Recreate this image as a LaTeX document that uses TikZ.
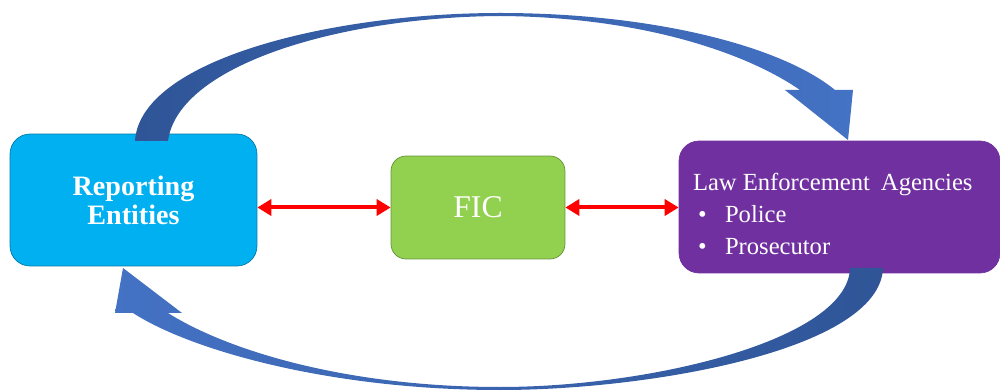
\documentclass[tikz,border=0pt]{standalone}
\usepackage{fontspec}
\setmainfont{Liberation Serif}
\usepackage{xcolor}
\usepackage{tikz}
\usetikzlibrary{arrows.meta, calc, positioning}

\definecolor{repblue}{HTML}{00B0F0}
\definecolor{ficgreen}{HTML}{92D050}
\definecolor{leapurple}{HTML}{7030A0}
\definecolor{flowdark}{HTML}{2F5597}
\definecolor{flowlight}{HTML}{4472C4}
\definecolor{linkred}{HTML}{FF0000}

\begin{document}
\begin{tikzpicture}[x=0.02cm, y=-0.02cm,
    box/.style={rounded corners=0.4cm, draw=#1!70!black, thin, fill=#1, text=white, inner sep=0pt},
    link/.style={{Triangle[length=0.28cm,width=0.32cm]}-{Triangle[length=0.28cm,width=0.32cm]}, linkred, line width=0.08cm}]
        \useasboundingbox (0,0) rectangle (1000,391);

        % Draw the three boxes
        \node[box=repblue, minimum width=4.94cm, minimum height=2.64cm, align=center,
              font=\fontsize{16}{16.5}\selectfont\bfseries] (rep) at (133.5,200) {Reporting\\Entities};
        \node[box=ficgreen, rounded corners=0.3cm, minimum width=3.48cm, minimum height=2.06cm,
              font=\fontsize{18}{20}\selectfont] (fic) at (478,207.5) {FIC};
        \node[box=leapurple, draw=leapurple, minimum width=6.42cm, minimum height=2.64cm] (lea) at (839.5,207) {};

        % Text of the agencies box
        \node[anchor=west, align=left, text=white, inner sep=0pt,
              font=\fontsize{14}{18.3}\selectfont] (leatext) at ($(lea.west)+(14,7)$)
              {Law Enforcement\hspace{0.2em} Agencies\\
               \makebox[0.64cm][l]{\hspace{0.1cm}\textbullet}Police\\
               \makebox[0.64cm][l]{\hspace{0.1cm}\textbullet}Prosecutor};

        % Two-way exchange with the FIC
        \draw[link] (rep.east |- fic.west) -- (fic.west);
        \draw[link] (fic.east) -- (fic.east -| lea.west);

        % Upper flow: reporting entities to agencies
        \shade[left color=flowdark, right color=flowlight]
            (135,141) .. controls (140,60) and (330,13) .. (500,13)
            .. controls (650,13) and (780,45) .. (835,90)
            -- (853,90) -- (848,140) -- (785,90) -- (800,90)
            .. controls (745,52) and (640,17) .. (500,16)
            .. controls (340,17) and (178,65) .. (168,141) -- cycle;

        % Lower flow: agencies back to reporting entities
        \shade[left color=flowlight, right color=flowdark]
            (883,268) .. controls (880,350) and (650,390) .. (500,390)
            .. controls (330,390) and (190,350) .. (133,313)
            -- (115,313) -- (123,268) -- (182,313) -- (168,313)
            .. controls (230,352) and (350,387) .. (500,387)
            .. controls (650,387) and (848,340) .. (850,268) -- cycle;
    \end{tikzpicture}
\end{document}
